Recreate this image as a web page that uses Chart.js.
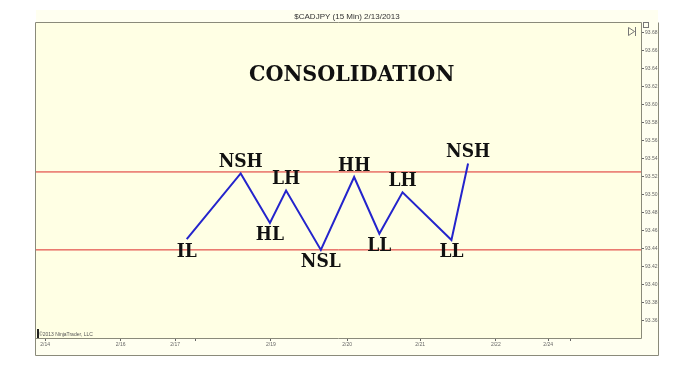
<!DOCTYPE html>
<html>
<head>
<meta charset="utf-8">
<script src="https://cdn.jsdelivr.net/npm/chart.js@4.4.1/dist/chart.umd.min.js"></script>
<style>
  body { margin: 0; background: #fff; }
  #wrap { width: 688px; height: 378px; position: relative; }
</style>
</head>
<body>
<div id="wrap"><canvas id="chart"></canvas></div>
<script>
// swing points (bar index, price)
const swingBars = [29.9, 40.6, 46.4, 49.6, 56.5, 63.1, 68.1, 72.7, 82.4, 85.7];
const swingPrices = [93.451, 93.524, 93.469, 93.505, 93.439, 93.520, 93.457, 93.503, 93.450, 93.535];
const swingLabels = ["IL", "NSH", "HL", "LH", "NSL", "HH", "LL", "LH", "LL", "NSH"];

// range lines
const rangeLevels = [93.5256, 93.439];

// axes
const priceTicks = [93.36, 93.38, 93.40, 93.42, 93.44, 93.46, 93.48, 93.50, 93.52, 93.54, 93.56, 93.58, 93.60, 93.62, 93.64, 93.66, 93.68];
const dateTickBars = [1.8, 16.8, 27.6, 31.7, 46.6, 61.7, 76.2, 91.2, 101.6, 106.1];
const dateTickLabels = ["2/14", "2/16", "2/17", "", "2/19", "2/20", "2/21", "2/22", "2/24", ""];

const chartTitle = "$CADJPY (15 Min) 2/13/2013";
const heading = "CONSOLIDATION";
const copyright = "\u00A92013 NinjaTrader, LLC";

const xMin = 0, xMax = 120;
const yMin = 93.3411, yMax = 93.6911;

const panelPlugin = {
    id: "panel",
    beforeDraw(chart) {
        const ctx = chart.ctx;
        const a = chart.chartArea;
        const x = chart.scales.x;
        const y = chart.scales.y;
        ctx.save();
        // outer panel and title strip
        ctx.fillStyle = "#fffff0";
        ctx.fillRect(a.left, 10, y.right - a.left, x.bottom - 10);
        // plot background
        ctx.fillStyle = "#ffffe4";
        ctx.fillRect(a.left, a.top, a.right - a.left, a.bottom - a.top);
        ctx.fillStyle = "#fffff0";
        ctx.fillRect(a.left, a.bottom, a.right - a.left, x.bottom - a.bottom);
        ctx.restore();
    },
    afterDraw(chart) {
        const ctx = chart.ctx;
        const a = chart.chartArea;
        const x = chart.scales.x;
        const y = chart.scales.y;
        ctx.save();
        ctx.strokeStyle = "#8a8a7a";
        ctx.lineWidth = 1;
        ctx.beginPath();
        ctx.rect(a.left - 0.5, a.top - 0.5, a.right - a.left + 1, a.bottom - a.top + 1);
        ctx.moveTo(a.left - 0.5, a.bottom);
        ctx.lineTo(a.left - 0.5, x.bottom + 0.5);
        ctx.lineTo(y.right + 0.5, x.bottom + 0.5);
        ctx.lineTo(y.right + 0.5, a.top - 0.5);
        ctx.stroke();

        // heading
        ctx.fillStyle = "#111";
        ctx.font = "bold 23px 'DejaVu Serif Condensed', 'DejaVu Serif'";
        ctx.textAlign = "center";
        ctx.textBaseline = "middle";
        ctx.fillText(heading, x.getPixelForValue(62.6), y.getPixelForValue(93.6328));

        // swing labels: above peaks, below troughs
        ctx.font = "bold 19px 'DejaVu Serif Condensed', 'DejaVu Serif'";
        swingLabels.forEach((lab, i) => {
            const prev = swingPrices[i - 1] !== undefined ? swingPrices[i - 1] : swingPrices[i + 1];
            const next = swingPrices[i + 1] !== undefined ? swingPrices[i + 1] : swingPrices[i - 1];
            const isPeak = swingPrices[i] > prev && swingPrices[i] > next;
            const px = x.getPixelForValue(swingBars[i]);
            const py = y.getPixelForValue(swingPrices[i]);
            ctx.fillText(lab, px, py + (isPeak ? -11 : 12.5));
        });

        // copyright and small bar
        ctx.fillStyle = "#222";
        ctx.fillRect(a.left + 1, a.bottom - 9, 2, 9);
        ctx.fillStyle = "#555";
        ctx.font = "5px Arial";
        ctx.textAlign = "left";
        ctx.textBaseline = "alphabetic";
        ctx.fillText(copyright, a.left + 3, a.bottom - 2);

        // corner icons
        ctx.strokeStyle = "#777";
        ctx.beginPath();
        ctx.moveTo(a.right - 12.5, a.top + 4.5);
        ctx.lineTo(a.right - 6.5, a.top + 8.5);
        ctx.lineTo(a.right - 12.5, a.top + 12.5);
        ctx.closePath();
        ctx.moveTo(a.right - 5.5, a.top + 4);
        ctx.lineTo(a.right - 5.5, a.top + 13);
        ctx.stroke();
        ctx.strokeRect(a.right + 2.5, a.top - 0.5, 5, 5);
        ctx.restore();
    }
};

new Chart(document.getElementById("chart"), {
    type: "line",
    data: {
        datasets: [{
            data: swingBars.map((b, i) => ({ x: b, y: swingPrices[i] })),
            borderColor: "#2424cc",
            borderWidth: 2,
            pointRadius: 0,
            tension: 0
        }].concat(rangeLevels.map(v => ({
            data: [{ x: xMin, y: v }, { x: xMax, y: v }],
            borderColor: "#dd2a2a",
            borderWidth: 1,
            pointRadius: 0
        })))
    },
    options: {
        responsive: true,
        maintainAspectRatio: false,
        animation: false,
        layout: { padding: { left: 36, right: 30, top: 12, bottom: 23 } },
        plugins: {
            legend: { display: false },
            tooltip: { enabled: false },
            title: {
                display: true,
                text: chartTitle,
                color: "#333",
                font: { family: "Arial", size: 8, weight: "normal" },
                padding: { top: 0, bottom: 1.4 }
            }
        },
        scales: {
            x: {
                type: "linear",
                min: xMin,
                max: xMax,
                afterBuildTicks: s => { s.ticks = dateTickBars.map(v => ({ value: v })); },
                afterFit: s => { s.height = 17; },
                grid: { drawOnChartArea: false, tickLength: 3, color: "#666" },
                border: { display: false },
                ticks: {
                    autoSkip: false,
                    maxRotation: 0,
                    padding: 1,
                    color: "#666",
                    font: { family: "Arial", size: 5 },
                    callback: (v, i) => dateTickLabels[i]
                }
            },
            y: {
                position: "right",
                min: yMin,
                max: yMax,
                afterBuildTicks: s => { s.ticks = priceTicks.map(v => ({ value: v })); },
                afterFit: s => { s.width = 17; },
                grid: { drawOnChartArea: false, tickLength: 3, color: "#666" },
                border: { display: false },
                ticks: {
                    autoSkip: false,
                    padding: 1,
                    color: "#666",
                    font: { family: "Arial", size: 5 },
                    callback: v => v.toFixed(2)
                }
            }
        }
    },
    plugins: [panelPlugin]
});
</script>
</body>
</html>
